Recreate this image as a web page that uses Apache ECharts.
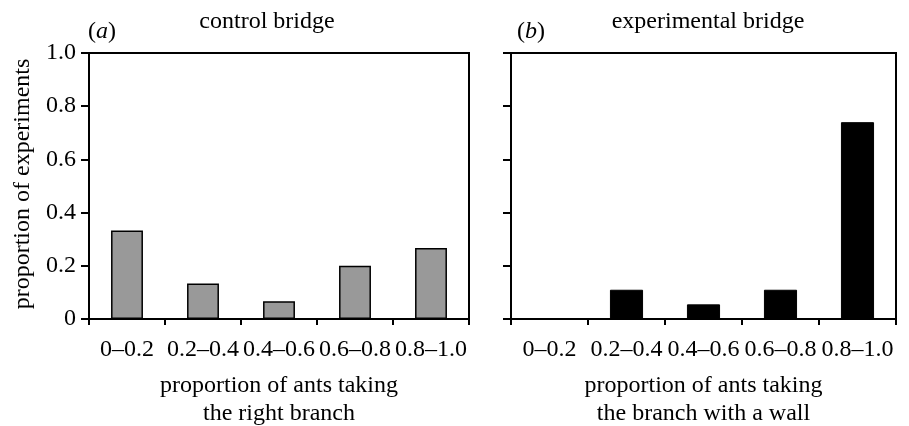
<!DOCTYPE html>
<html>
<head>
<meta charset="utf-8">
<script src="https://cdn.jsdelivr.net/npm/echarts@6/dist/echarts.min.js"></script>
<style>
html,body{margin:0;padding:0;background:#fff;}
#c{width:909px;height:426px;}
</style>
</head>
<body>
<div id="c"></div>
<script>
const categories = ['0\u20130.2', '0.2\u20130.4', '0.4\u20130.6', '0.6\u20130.8', '0.8\u20131.0'];
const controlValues = [0.333, 0.133, 0.067, 0.2, 0.267];
const experimentalValues = [0, 0.11, 0.055, 0.11, 0.74];
const yTicks = [0, 0.2, 0.4, 0.6, 0.8, 1.0];
const panelTitles = ['control bridge', 'experimental bridge'];
const panelLetters = ['a', 'b'];
const xNames = ['proportion of ants taking\nthe right branch', 'proportion of ants taking\nthe branch with a wall'];
const yName = 'proportion of experiments';

const FONT = '"Liberation Serif", "Times New Roman", serif';
const FS = 24;

function xAxis(idx, name) {
  return {
    type: 'category', gridIndex: idx, data: categories,
    boundaryGap: true,
    axisLine: {lineStyle: {color: '#000', width: 2}},
    axisTick: {show: true, length: 6, inside: false, alignWithLabel: false, interval: 0, lineStyle: {color: '#000', width: 2}},
    axisLabel: {interval: 0, margin: 19, color: '#000', fontFamily: FONT, fontSize: FS},
    name: name, nameLocation: 'middle', nameGap: 53,
    nameTextStyle: {color: '#000', fontFamily: FONT, fontSize: FS, lineHeight: 28}
  };
}
function yAxis(idx, showLabels) {
  return {
    type: 'value', gridIndex: idx, min: yTicks[0], max: yTicks[yTicks.length - 1], interval: 0.2,
    axisLine: {show: true, lineStyle: {color: '#000', width: 2}},
    axisTick: {show: true, length: 8, inside: false, lineStyle: {color: '#000', width: 2}},
    splitLine: {show: false},
    axisLabel: {show: showLabels, margin: 13, color: '#000', fontFamily: FONT, fontSize: FS,
      formatter: v => (v === 0 ? '0' : v.toFixed(1))}
  };
}

const chart = echarts.init(document.getElementById('c'), null, {renderer: 'canvas'});
chart.setOption({
  animation: false,
  backgroundColor: '#fff',
  grid: [
    {left: 89, top: 53, width: 380, height: 266, containLabel: false, outerBoundsMode: 'none', show: true, borderColor: '#000', borderWidth: 2, backgroundColor: 'transparent'},
    {left: 511, top: 53, width: 385, height: 266, containLabel: false, outerBoundsMode: 'none', show: true, borderColor: '#000', borderWidth: 2, backgroundColor: 'transparent'}
  ],
  xAxis: [xAxis(0, xNames[0]), xAxis(1, xNames[1])],
  yAxis: [yAxis(0, true), yAxis(1, false)],
  series: [
    {type: 'bar', xAxisIndex: 0, yAxisIndex: 0, data: controlValues, barWidth: '42%',
      itemStyle: {color: '#999999', borderColor: '#000', borderWidth: 1.5}},
    {type: 'bar', xAxisIndex: 1, yAxisIndex: 1, data: experimentalValues, barWidth: '43%',
      itemStyle: {color: '#000', borderColor: '#000', borderWidth: 1}}
  ],
  graphic: [
    {type: 'text', x: 267, y: 22, style: {text: panelTitles[0], font: FS + 'px ' + FONT, fill: '#000', textAlign: 'center', textVerticalAlign: 'middle'}},
    {type: 'text', x: 708, y: 22, style: {text: panelTitles[1], font: FS + 'px ' + FONT, fill: '#000', textAlign: 'center', textVerticalAlign: 'middle'}},
    {type: 'text', x: 88, y: 32, style: {rich: {p: {font: FS + 'px ' + FONT, fill: '#000'}, i: {font: 'italic ' + FS + 'px ' + FONT, fill: '#000'}}, text: '{p|(}{i|' + panelLetters[0] + '}{p|)}', textAlign: 'left', textVerticalAlign: 'middle'}},
    {type: 'text', x: 517, y: 32, style: {rich: {p: {font: FS + 'px ' + FONT, fill: '#000'}, i: {font: 'italic ' + FS + 'px ' + FONT, fill: '#000'}}, text: '{p|(}{i|' + panelLetters[1] + '}{p|)}', textAlign: 'left', textVerticalAlign: 'middle'}},
    {type: 'text', x: 23, y: 184, rotation: Math.PI / 2, style: {text: yName, font: FS + 'px ' + FONT, fill: '#000', textAlign: 'center', textVerticalAlign: 'middle'}}
  ]
});
</script>
</body>
</html>
